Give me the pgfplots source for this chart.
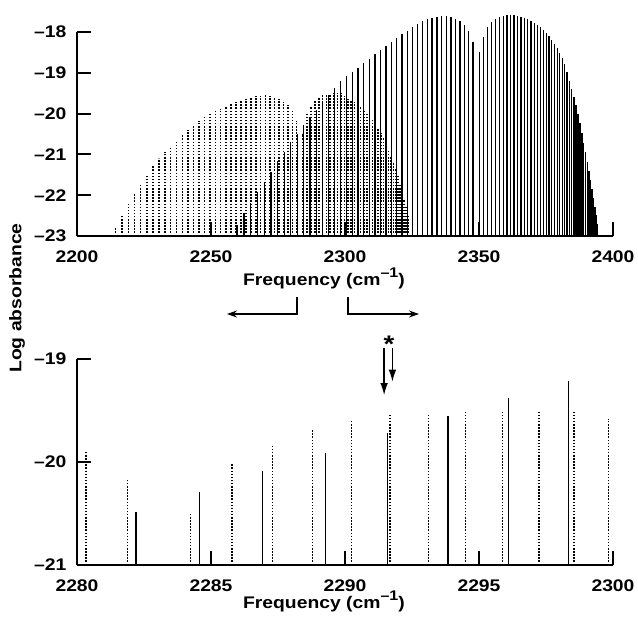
\documentclass[border=0pt]{standalone}
\usepackage{fontspec}
\setmainfont{Liberation Sans}[FakeStretch=1.15]
\usepackage{pgfplots}
\pgfplotsset{compat=1.18}
\usepackage{pgfplotstable}
\usetikzlibrary{arrows.meta}

% main band (solid lines): frequency (cm^-1), log absorbance
\pgfplotstableread{
x y
2259.65 -22.72
2262.26 -22.44
2264.83 -22.18
2267.39 -21.92
2269.91 -21.68
2272.42 -21.42
2274.90 -21.17
2277.35 -20.93
2279.78 -20.70
2282.20 -20.49
2284.56 -20.29
2286.93 -20.09
2289.27 -19.91
2291.58 -19.72
2293.84 -19.55
2296.10 -19.38
2298.33 -19.21
2300.54 -19.08
2302.72 -18.97
2304.88 -18.87
2307.01 -18.76
2309.12 -18.65
2311.21 -18.54
2313.27 -18.44
2315.30 -18.34
2317.31 -18.24
2319.30 -18.14
2321.26 -18.05
2323.20 -17.97
2325.11 -17.88
2327.00 -17.80
2328.86 -17.74
2330.70 -17.69
2332.51 -17.65
2334.30 -17.62
2336.06 -17.61
2337.80 -17.61
2339.52 -17.63
2341.21 -17.67
2342.87 -17.73
2344.52 -17.82
2346.13 -17.98
2347.72 -18.25
2350.21 -18.50
2351.74 -18.12
2353.25 -17.88
2354.73 -17.76
2356.19 -17.68
2357.62 -17.64
2359.03 -17.61
2360.41 -17.59
2361.77 -17.58
2363.10 -17.59
2364.41 -17.60
2365.69 -17.62
2366.95 -17.65
2368.18 -17.68
2369.39 -17.72
2370.58 -17.77
2371.74 -17.82
2372.88 -17.88
2373.99 -17.95
2375.07 -18.02
2376.14 -18.10
2377.17 -18.19
2378.19 -18.29
2379.17 -18.40
2380.14 -18.51
2381.08 -18.63
2381.99 -18.78
2382.88 -18.98
2383.75 -19.19
2384.59 -19.39
2385.40 -19.59
2386.19 -19.80
2386.96 -20.01
2387.70 -20.23
2388.42 -20.47
2389.11 -20.71
2389.78 -20.95
2390.42 -21.18
2391.04 -21.41
2391.63 -21.63
2392.20 -21.84
2392.75 -22.06
2393.27 -22.28
2393.76 -22.48
2394.22 -22.70
}\solidlines

% isotopic band (dotted lines)
\pgfplotstableread{
x y
2214.40 -22.80
2216.78 -22.52
2219.14 -22.22
2221.47 -21.94
2223.78 -21.72
2226.07 -21.50
2228.33 -21.29
2230.57 -21.10
2232.78 -20.93
2234.97 -20.80
2237.14 -20.66
2239.28 -20.52
2241.40 -20.40
2243.49 -20.29
2245.56 -20.18
2247.61 -20.09
2249.63 -20.01
2251.63 -19.94
2253.60 -19.88
2255.55 -19.82
2257.48 -19.76
2259.38 -19.71
2261.26 -19.67
2263.11 -19.63
2264.94 -19.60
2266.75 -19.58
2268.53 -19.56
2270.29 -19.55
2272.02 -19.57
2273.73 -19.60
2275.42 -19.65
2277.08 -19.72
2278.72 -19.80
2280.33 -19.90
2281.89 -20.17
2284.24 -20.49
2285.78 -20.02
2287.30 -19.83
2288.79 -19.68
2290.25 -19.59
2291.68 -19.54
2293.11 -19.54
2294.49 -19.51
2295.88 -19.50
2297.23 -19.50
2298.55 -19.50
2299.83 -19.58
2301.04 -19.63
2302.28 -19.67
2303.50 -19.72
2304.69 -19.77
2305.86 -19.83
2307.01 -19.90
2308.13 -19.98
2309.23 -20.06
2310.30 -20.15
2311.35 -20.25
2312.38 -20.36
2313.38 -20.47
2314.36 -20.60
2315.31 -20.74
2316.24 -20.88
2317.15 -21.03
2318.03 -21.19
2318.89 -21.36
2319.72 -21.54
2320.53 -21.73
2321.32 -21.92
2322.08 -22.11
2322.82 -22.30
2323.53 -22.49
}\dottedlines

\newcommand{\lbl}{\fontsize{8.4}{10}\selectfont\bfseries}
\newcommand{\freqlabel}{Frequency (cm\raisebox{4pt}{\fontsize{7}{7}\selectfont --1})}

\begin{document}
\begin{tikzpicture}[font=\lbl]
\path[use as bounding box] (-38.5pt,-191pt) rectangle (280.5pt,118pt);
\pgfplotsset{
  specstyle/.style={
    scale only axis, width=268pt,
    axis lines=left,
    axis line style={-, line width=1pt},
    tick align=inside,
    major tick length=7pt,
    every tick/.style={line width=1pt, black},
    tick label style={font=\lbl},
    xticklabel style={yshift=-3.8pt},
    yticklabel style={xshift=-1.8pt},
    clip=false,
  },
  solidst/.style={ycomb, black, line width=0.65pt},
  dotst/.style={ycomb, black, line width=0.75pt, dash pattern=on 0.75pt off 0.8pt},
}
% top panel
\begin{axis}[specstyle,
  at={(0pt,0pt)}, anchor=south west,
  height=102pt,
  xmin=2200, xmax=2400, ymin=0, ymax=5,
  xtick={2200,2250,2300,2350,2400},
  xticklabels={2200,2250,2300,2350,2400},
  ytick={0,1,2,3,4,5},
  yticklabels={--23,--22,--21,--20,--19,--18},
]
\addplot[dotst] table[x=x, y expr=\thisrow{y}+23] {\dottedlines};
\addplot[solidst] table[x=x, y expr=\thisrow{y}+23] {\solidlines};
\end{axis}
% bottom panel
\begin{axis}[specstyle,
  at={(0pt,-164.5pt)}, anchor=south west,
  height=103pt,
  xmin=2280, xmax=2300, ymin=0, ymax=2,
  xtick={2280,2285,2290,2295,2300},
  xticklabels={2280,2285,2290,2295,2300},
  ytick={0,1,2},
  yticklabels={--21,--20,--19},
]
\addplot[dotst, restrict x to domain=2280:2300] table[x=x, y expr=\thisrow{y}+21] {\dottedlines};
\addplot[solidst, restrict x to domain=2280:2300] table[x=x, y expr=\thisrow{y}+21] {\solidlines};
\draw[line width=0.65pt, -{Latex[length=6pt,width=3.8pt]}] (axis cs:2291.46,2.11) -- (axis cs:2291.46,1.65);
\draw[line width=0.65pt, -{Latex[length=6pt,width=3.8pt]}] (axis cs:2291.77,2.11) -- (axis cs:2291.77,1.78);
\node[inner sep=0pt] at (axis cs:2291.64,2.14) {\fontsize{12}{12}\selectfont *};
\end{axis}
% labels
\node[anchor=base] at (123.5pt,-24.5pt) {\freqlabel};
\node[anchor=base] at (123.5pt,-186pt) {\freqlabel};
\node[rotate=90] at (-30pt,-31pt) {Log absorbance};
% arrows between panels
\draw[line width=0.65pt, -{Stealth[length=5pt,width=3.5pt]}] (110pt,-30.5pt) -- (110pt,-39pt) -- (75pt,-39pt);
\draw[line width=0.65pt, -{Stealth[length=5pt,width=3.5pt]}] (135.5pt,-30.5pt) -- (135.5pt,-39pt) -- (171pt,-39pt);
\end{tikzpicture}
\end{document}
